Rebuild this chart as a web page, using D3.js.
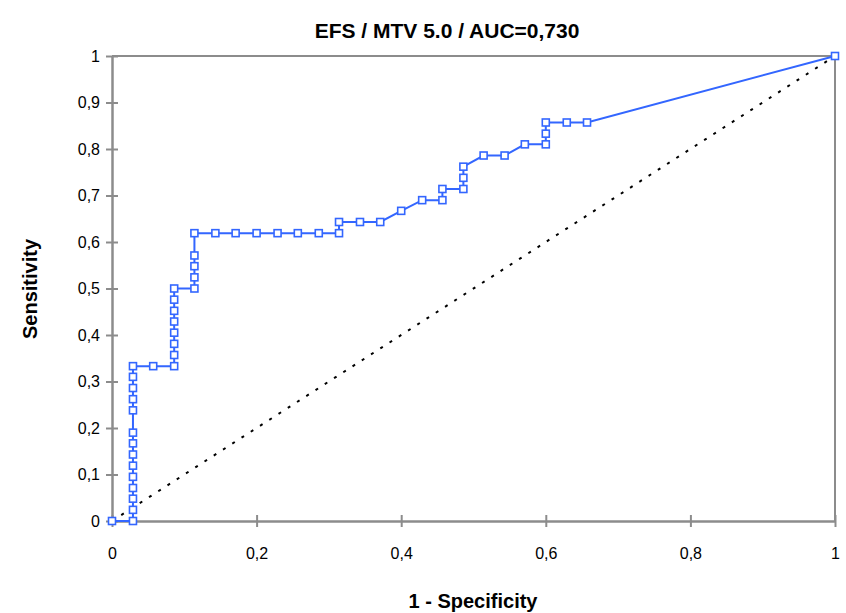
<!DOCTYPE html>
<html>
<head>
<meta charset="utf-8">
<script src="https://cdn.jsdelivr.net/npm/d3@7"></script>
<style>
	body { margin: 0; background: #fff; }
	text { font-family: "Liberation Sans", Arial, sans-serif; }
</style>
</head>
<body>
<div id="chart"></div>
<script>
// ROC points (1 - specificity, sensitivity)
var fpr = [0,
	0.029,0.029,0.029,0.029,0.029,0.029,0.029,0.029,0.029,0.029,0.029,0.029,0.029,0.029,
	0.057,
	0.086,0.086,0.086,0.086,0.086,0.086,0.086,0.086,
	0.114,0.114,0.114,0.114,0.114,
	0.143,0.171,0.2,0.229,0.257,0.286,
	0.314,0.314,
	0.343,0.371,0.4,0.429,
	0.457,0.457,
	0.486,0.486,0.486,
	0.514,0.543,
	0.571,
	0.6,0.6,0.6,
	0.629,0.657,1];
var sens = [0,
	0,0.024,0.048,0.071,0.095,0.119,0.143,0.167,0.19,0.238,0.262,0.286,0.31,0.333,
	0.333,
	0.333,0.357,0.381,0.405,0.429,0.452,0.476,0.5,
	0.5,0.524,0.548,0.571,0.619,
	0.619,0.619,0.619,0.619,0.619,0.619,
	0.619,0.643,
	0.643,0.643,0.667,0.69,
	0.69,0.714,
	0.714,0.738,0.762,
	0.786,0.786,
	0.81,
	0.81,0.833,0.857,
	0.857,0.857,1];
var refLine = [0, 1];
var xTicks = [0, 0.2, 0.4, 0.6, 0.8, 1];
var yTicks = [0, 0.1, 0.2, 0.3, 0.4, 0.5, 0.6, 0.7, 0.8, 0.9, 1];
var title = "EFS / MTV 5.0 / AUC=0,730";

var cfg = {width: 846, height: 613, left: 112, right: 835, top: 56, bottom: 521, axisColor: "#8c8c8c", lineColor: "#3366ff"};
var fmt = function(d){ return String(d).replace(".", ","); };

var svg = d3.select("#chart").append("svg").attr("width", cfg.width).attr("height", cfg.height);

var x = d3.scaleLinear().domain([0, 1]).range([cfg.left, cfg.right]);
var y = d3.scaleLinear().domain([0, 1]).range([cfg.bottom, cfg.top]);

var points = fpr.map(function(d, i){ return {x: d, y: sens[i]}; });

// frame (top / right)
svg.append("line").attr("x1", cfg.left).attr("x2", cfg.right).attr("y1", cfg.top).attr("y2", cfg.top)
	.style("stroke", cfg.axisColor).style("stroke-width", 2);
svg.append("line").attr("x1", cfg.right).attr("x2", cfg.right).attr("y1", cfg.top).attr("y2", cfg.bottom)
	.style("stroke", cfg.axisColor).style("stroke-width", 2);

// axes
var xAxis = svg.append("g").attr("transform", "translate(0," + cfg.bottom + ")")
	.call(d3.axisBottom(x).tickValues(xTicks).tickFormat(fmt).tickSizeInner(6).tickSizeOuter(0).tickPadding(21));
var yAxis = svg.append("g").attr("transform", "translate(" + cfg.left + ",0)")
	.call(d3.axisLeft(y).tickValues(yTicks).tickFormat(fmt).tickSizeInner(6).tickSizeOuter(0).tickPadding(6));

[xAxis, yAxis].forEach(function(g){
	g.select(".domain").style("stroke", cfg.axisColor).style("stroke-width", 2.5);
	g.selectAll(".tick line").style("stroke", cfg.axisColor).style("stroke-width", 2);
	g.selectAll(".tick text").style("font-size", "16px").style("fill", "#000");
});
// ticks cross the axis
xAxis.selectAll(".tick line").attr("y1", -6).attr("y2", 6);
yAxis.selectAll(".tick line").attr("x1", -6).attr("x2", 6);

// reference diagonal
svg.append("line")
	.attr("x1", x(refLine[0])).attr("y1", y(refLine[0]))
	.attr("x2", x(refLine[1])).attr("y2", y(refLine[1]))
	.style("stroke", "#000").style("stroke-width", 2)
	.style("stroke-dasharray", "3,8");

// ROC line
var line = d3.line().x(function(d){ return x(d.x); }).y(function(d){ return y(d.y); });
svg.append("path").datum(points)
	.attr("d", line)
	.style("fill", "none").style("stroke", cfg.lineColor).style("stroke-width", 2);

svg.selectAll("rect.pt").data(points).enter()
	.append("rect").attr("class", "pt")
	.attr("x", function(d){ return x(d.x) - 3.5; })
	.attr("y", function(d){ return y(d.y) - 3.5; })
	.attr("width", 7).attr("height", 7)
	.style("fill", "#fff").style("stroke", cfg.lineColor).style("stroke-width", 1.6);

// titles
svg.append("text").attr("x", 447).attr("y", 38).attr("text-anchor", "middle")
	.style("font-size", "21px").style("font-weight", "bold").text(title);
svg.append("text").attr("x", 473).attr("y", 608).attr("text-anchor", "middle")
	.style("font-size", "20px").style("font-weight", "bold").text("1 - Specificity");
svg.append("text").attr("transform", "translate(37,289) rotate(-90)").attr("text-anchor", "middle")
	.style("font-size", "20px").style("font-weight", "bold").text("Sensitivity");
</script>
</body>
</html>
